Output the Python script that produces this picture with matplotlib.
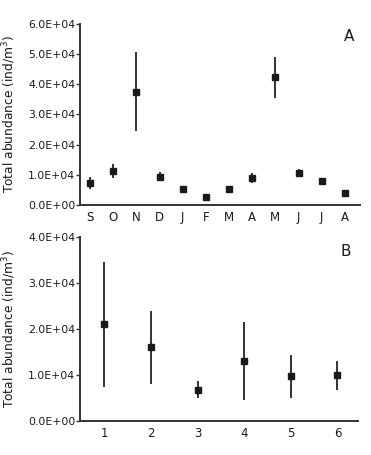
import matplotlib
matplotlib.use("Agg")
import matplotlib.pyplot as plt
from matplotlib.ticker import FuncFormatter

months = ["S", "O", "N", "D", "J", "F", "M", "A", "M", "J", "J", "A"]
month_vals = [7400, 11300, 37600, 9300, 5400, 2800, 5400, 9000, 42300, 10700, 8000, 4100]
month_err = [2000, 2300, 13000, 1500, 0, 0, 0, 1700, 6700, 1300, 0, 0]

sites = [1, 2, 3, 4, 5, 6]
site_vals = [21000, 16000, 6800, 13100, 9700, 9900]
site_err = [13600, 8000, 1800, 8500, 4600, 3200]

plt.rcParams['font.family'] = ['DejaVu Sans']
fig = plt.figure(figsize=(3.71, 4.55), dpi=100)

def sci(v, pos):
    return f"{v:.1E}"

spine_col = "#333333"
txt_col = "#1a1a1a"

def style(ax):
    for s in ["top", "right"]:
        ax.spines[s].set_visible(False)
    for s in ["left", "bottom"]:
        ax.spines[s].set_color(spine_col)
        ax.spines[s].set_linewidth(1.4)
    ax.tick_params(axis="y", length=3, width=1, pad=0.5, labelsize=7.8, colors=spine_col, labelcolor=txt_col)
    ax.tick_params(axis="x", length=0, pad=4.5, labelsize=8.5, labelcolor=txt_col)
    ax.yaxis.set_major_formatter(FuncFormatter(sci))

axA = fig.add_axes([80/371, 1-205/455, 280/371, 181/455])
xA = list(range(len(months)))
axA.errorbar(xA, month_vals, yerr=month_err, fmt="s", color="#1a1a1a", ecolor="#333333",
             elinewidth=1.4, capsize=0, markersize=4.5)
axA.set_xlim(-0.43, 11.65)
axA.set_ylim(0, 60000)
axA.set_yticks([0, 10000, 20000, 30000, 40000, 50000, 60000])
axA.set_xticks(xA)
axA.set_xticklabels(months)
style(axA)
axA.set_ylabel("Total abundance (ind/m$^3$)", fontsize=8.8, color=txt_col)
axA.yaxis.set_label_coords(-0.222, 0.5)
axA.text(0.96, 0.93, "A", transform=axA.transAxes, fontsize=11, ha="center", va="center", color=txt_col)

axB = fig.add_axes([80/371, 1-421/455, 278/371, 184/455])
axB.errorbar(sites, site_vals, yerr=site_err, fmt="s", color="#1a1a1a", ecolor="#333333",
             elinewidth=1.4, capsize=0, markersize=4.5)
axB.set_xlim(0.48, 6.44)
axB.set_ylim(0, 40000)
axB.set_yticks([0, 10000, 20000, 30000, 40000])
axB.set_xticks(sites)
style(axB)
axB.set_ylabel("Total abundance (ind/m$^3$)", fontsize=8.8, color=txt_col)
axB.yaxis.set_label_coords(-0.223, 0.5)
axB.text(0.955, 0.92, "B", transform=axB.transAxes, fontsize=11, ha="center", va="center", color=txt_col)

fig.savefig("out.png", dpi=100)
